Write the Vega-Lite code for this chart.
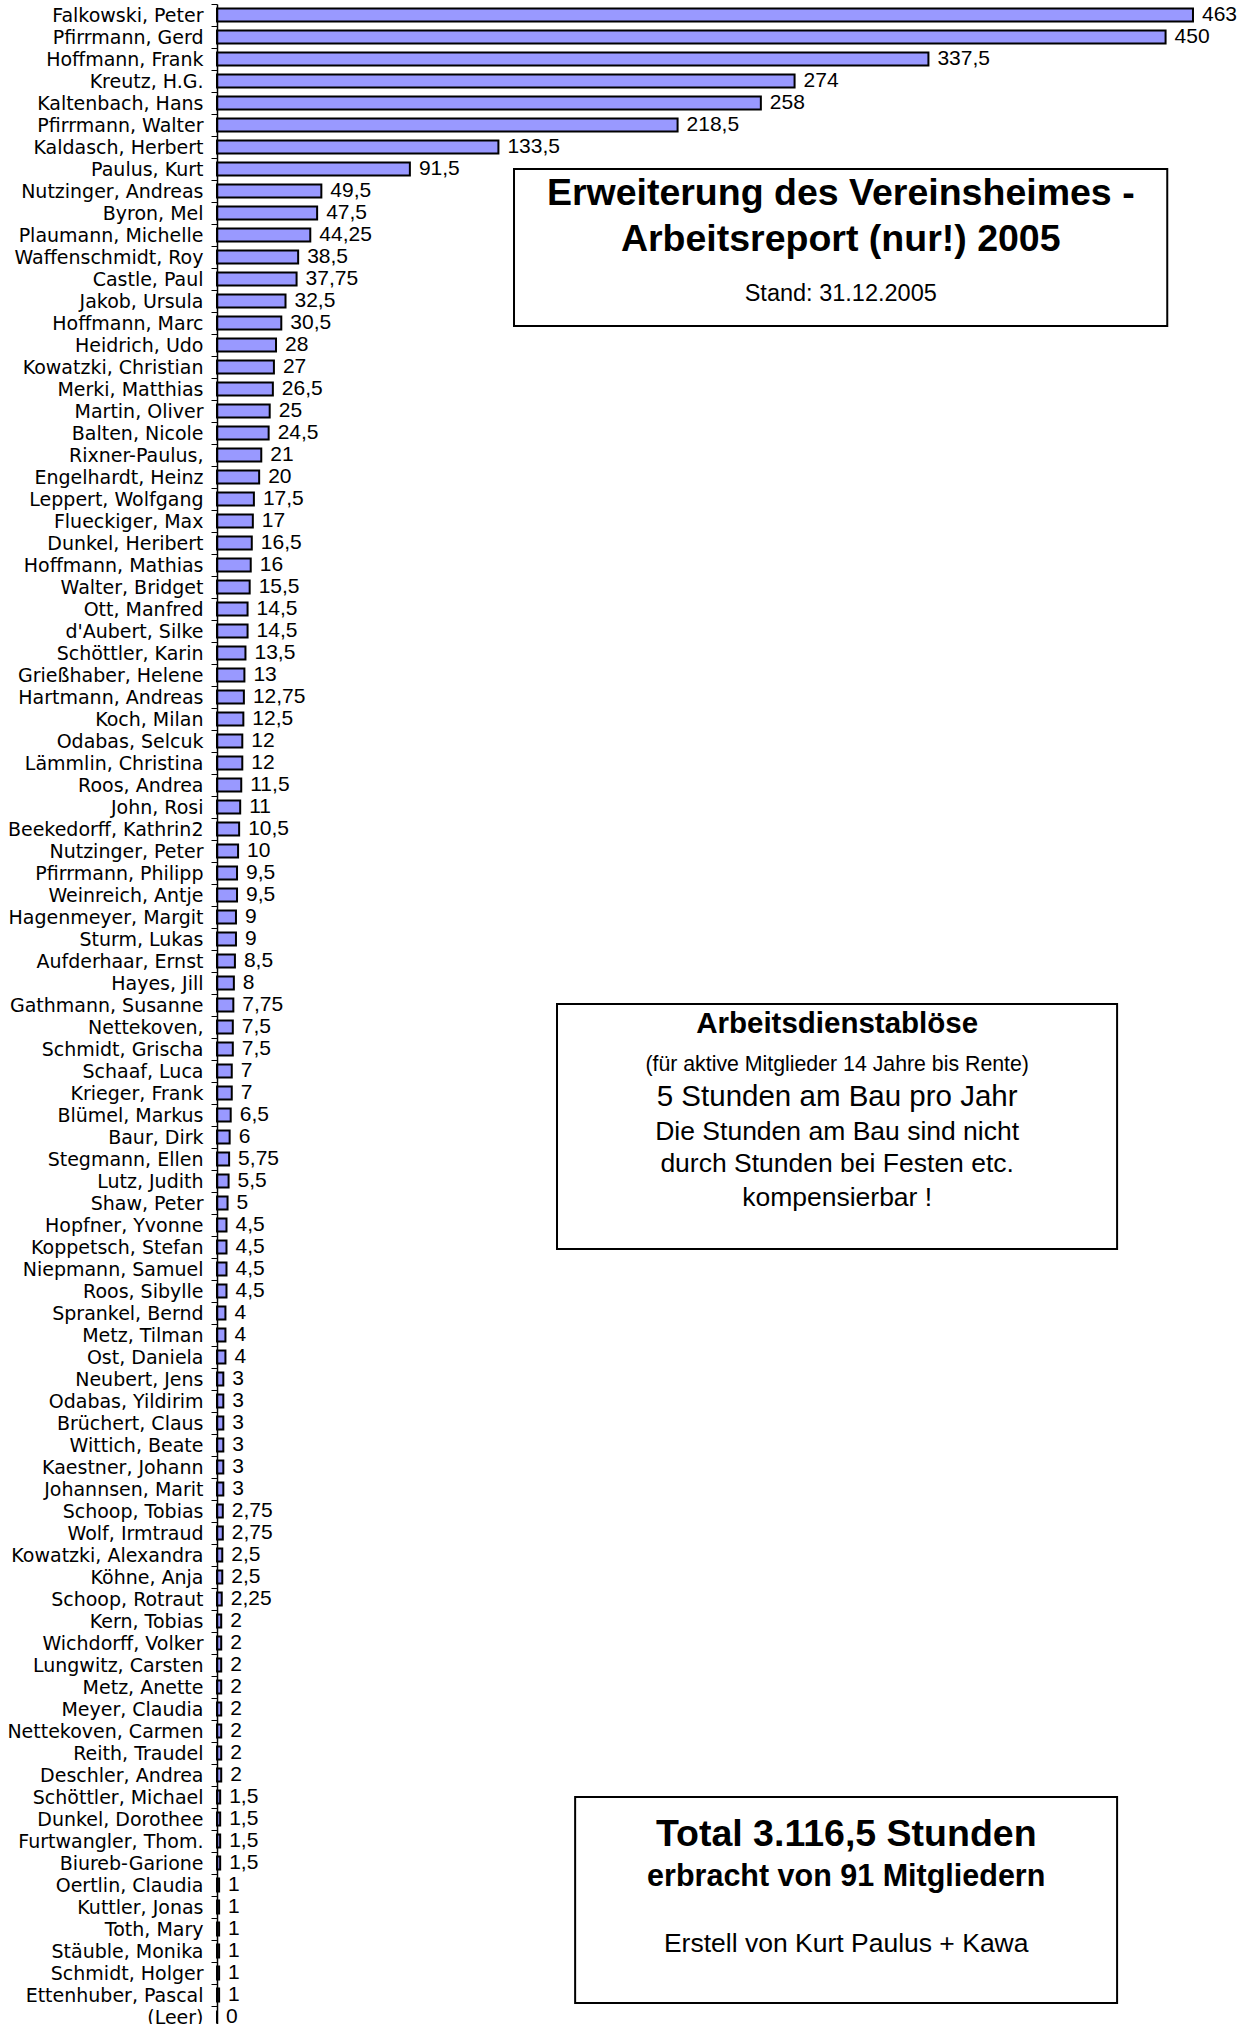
{
  "$schema": "https://vega.github.io/schema/vega-lite/v6.json",
  "width": 1035,
  "height": 2024,
  "padding": {"left": 217, "top": 4, "right": 0, "bottom": 0},
  "autosize": {"type": "none"},
  "background": "white",
  "config": {
    "view": {"stroke": null},
    "locale": {"number": {"decimal": ",", "thousands": ".", "grouping": [3], "currency": ["", " €"]}}
  },
  "datasets": {
    "members": [
      {"name": "Falkowski, Peter", "hours": 463},
      {"name": "Pfirrmann, Gerd", "hours": 450},
      {"name": "Hoffmann, Frank", "hours": 337.5},
      {"name": "Kreutz, H.G.", "hours": 274},
      {"name": "Kaltenbach, Hans", "hours": 258},
      {"name": "Pfirrmann, Walter", "hours": 218.5},
      {"name": "Kaldasch, Herbert", "hours": 133.5},
      {"name": "Paulus, Kurt", "hours": 91.5},
      {"name": "Nutzinger, Andreas", "hours": 49.5},
      {"name": "Byron, Mel", "hours": 47.5},
      {"name": "Plaumann, Michelle", "hours": 44.25},
      {"name": "Waffenschmidt, Roy", "hours": 38.5},
      {"name": "Castle, Paul", "hours": 37.75},
      {"name": "Jakob, Ursula", "hours": 32.5},
      {"name": "Hoffmann, Marc", "hours": 30.5},
      {"name": "Heidrich, Udo", "hours": 28},
      {"name": "Kowatzki, Christian", "hours": 27},
      {"name": "Merki, Matthias", "hours": 26.5},
      {"name": "Martin, Oliver", "hours": 25},
      {"name": "Balten, Nicole", "hours": 24.5},
      {"name": "Rixner-Paulus,", "hours": 21},
      {"name": "Engelhardt, Heinz", "hours": 20},
      {"name": "Leppert, Wolfgang", "hours": 17.5},
      {"name": "Flueckiger, Max", "hours": 17},
      {"name": "Dunkel, Heribert", "hours": 16.5},
      {"name": "Hoffmann, Mathias", "hours": 16},
      {"name": "Walter, Bridget", "hours": 15.5},
      {"name": "Ott, Manfred", "hours": 14.5},
      {"name": "d'Aubert, Silke", "hours": 14.5},
      {"name": "Schöttler, Karin", "hours": 13.5},
      {"name": "Grießhaber, Helene", "hours": 13},
      {"name": "Hartmann, Andreas", "hours": 12.75},
      {"name": "Koch, Milan", "hours": 12.5},
      {"name": "Odabas, Selcuk", "hours": 12},
      {"name": "Lämmlin, Christina", "hours": 12},
      {"name": "Roos, Andrea", "hours": 11.5},
      {"name": "John, Rosi", "hours": 11},
      {"name": "Beekedorff, Kathrin2", "hours": 10.5},
      {"name": "Nutzinger, Peter", "hours": 10},
      {"name": "Pfirrmann, Philipp", "hours": 9.5},
      {"name": "Weinreich, Antje", "hours": 9.5},
      {"name": "Hagenmeyer, Margit", "hours": 9},
      {"name": "Sturm, Lukas", "hours": 9},
      {"name": "Aufderhaar, Ernst", "hours": 8.5},
      {"name": "Hayes, Jill", "hours": 8},
      {"name": "Gathmann, Susanne", "hours": 7.75},
      {"name": "Nettekoven,", "hours": 7.5},
      {"name": "Schmidt, Grischa", "hours": 7.5},
      {"name": "Schaaf, Luca", "hours": 7},
      {"name": "Krieger, Frank", "hours": 7},
      {"name": "Blümel, Markus", "hours": 6.5},
      {"name": "Baur, Dirk", "hours": 6},
      {"name": "Stegmann, Ellen", "hours": 5.75},
      {"name": "Lutz, Judith", "hours": 5.5},
      {"name": "Shaw, Peter", "hours": 5},
      {"name": "Hopfner, Yvonne", "hours": 4.5},
      {"name": "Koppetsch, Stefan", "hours": 4.5},
      {"name": "Niepmann, Samuel", "hours": 4.5},
      {"name": "Roos, Sibylle", "hours": 4.5},
      {"name": "Sprankel, Bernd", "hours": 4},
      {"name": "Metz, Tilman", "hours": 4},
      {"name": "Ost, Daniela", "hours": 4},
      {"name": "Neubert, Jens", "hours": 3},
      {"name": "Odabas, Yildirim", "hours": 3},
      {"name": "Brüchert, Claus", "hours": 3},
      {"name": "Wittich, Beate", "hours": 3},
      {"name": "Kaestner, Johann", "hours": 3},
      {"name": "Johannsen, Marit", "hours": 3},
      {"name": "Schoop, Tobias", "hours": 2.75},
      {"name": "Wolf, Irmtraud", "hours": 2.75},
      {"name": "Kowatzki, Alexandra", "hours": 2.5},
      {"name": "Köhne, Anja", "hours": 2.5},
      {"name": "Schoop, Rotraut", "hours": 2.25},
      {"name": "Kern, Tobias", "hours": 2},
      {"name": "Wichdorff, Volker", "hours": 2},
      {"name": "Lungwitz, Carsten", "hours": 2},
      {"name": "Metz, Anette", "hours": 2},
      {"name": "Meyer, Claudia", "hours": 2},
      {"name": "Nettekoven, Carmen", "hours": 2},
      {"name": "Reith, Traudel", "hours": 2},
      {"name": "Deschler, Andrea", "hours": 2},
      {"name": "Schöttler, Michael", "hours": 1.5},
      {"name": "Dunkel, Dorothee", "hours": 1.5},
      {"name": "Furtwangler, Thom.", "hours": 1.5},
      {"name": "Biureb-Garione", "hours": 1.5},
      {"name": "Oertlin, Claudia", "hours": 1},
      {"name": "Kuttler, Jonas", "hours": 1},
      {"name": "Toth, Mary", "hours": 1},
      {"name": "Stäuble, Monika", "hours": 1},
      {"name": "Schmidt, Holger", "hours": 1},
      {"name": "Ettenhuber, Pascal", "hours": 1},
      {"name": "(Leer)", "hours": 0}
    ],
    "boxes": [
      {"box": "title", "x1": 140.9, "x2": 450.8, "r1": 7.5, "r2": 14.64},
      {"box": "rule", "x1": 161.3, "x2": 427.0, "r1": 45.45, "r2": 56.59},
      {"box": "total", "x1": 169.9, "x2": 427.0, "r1": 81.5, "r2": 90.86}
    ],
    "notes": [
      {"text": "Erweiterung des Vereinsheimes -", "x": 295.9, "row": 8.64, "style": "headline"},
      {"text": "Arbeitsreport (nur!) 2005", "x": 295.9, "row": 10.73, "style": "headline"},
      {"text": "Stand: 31.12.2005", "x": 295.9, "row": 13.18, "style": "date"},
      {"text": "Arbeitsdienstablöse", "x": 294.2, "row": 46.36, "style": "boxhead"},
      {"text": "(für aktive Mitglieder 14 Jahre bis Rente)", "x": 294.2, "row": 48.23, "style": "note"},
      {"text": "5 Stunden am Bau pro Jahr", "x": 294.2, "row": 49.68, "style": "rule"},
      {"text": "Die Stunden am Bau sind nicht", "x": 294.2, "row": 51.27, "style": "body"},
      {"text": "durch Stunden bei Festen etc.", "x": 294.2, "row": 52.73, "style": "body"},
      {"text": "kompensierbar !", "x": 294.2, "row": 54.27, "style": "body"},
      {"text": "Total 3.116,5 Stunden", "x": 298.5, "row": 83.23, "style": "headline"},
      {"text": "erbracht von 91 Mitgliedern", "x": 298.5, "row": 85.14, "style": "subhead"},
      {"text": "Erstell von Kurt Paulus + Kawa", "x": 298.5, "row": 88.18, "style": "body"}
    ]
  },
  "layer": [
    {
      "data": {"name": "members"},
      "encoding": {
        "y": {
          "field": "name", "type": "nominal", "sort": null,
          "scale": {"type": "band", "paddingInner": 0, "paddingOuter": 0},
          "axis": {
            "title": null, "tickBand": "extent", "tickSize": 6, "tickColor": "#000000", "tickWidth": 1,
            "domainColor": "#000000", "domainWidth": 1.5, "labelFont": "DejaVu Sans", "labelFontSize": 19,
            "labelColor": "#000000", "labelPadding": 8, "labelLimit": 260, "zindex": 1
          }
        },
        "x": {
          "field": "hours", "type": "quantitative",
          "scale": {"domain": [0, 491], "nice": false, "zero": true},
          "axis": {
            "title": null, "labels": false, "ticks": false, "domain": false, "grid": true,
            "values": [100, 200, 300, 400], "gridColor": "#707070", "gridWidth": 1, "zindex": 0
          }
        }
      },
      "layer": [
        {
          "mark": {"type": "bar", "fill": "#9999FF", "stroke": "#000000", "strokeWidth": 2, "size": 13}
        },
        {
          "mark": {"type": "text", "align": "left", "baseline": "middle", "dx": 9, "font": "Liberation Sans", "fontSize": 21, "color": "#000000"},
          "encoding": {
            "text": {"field": "hours", "type": "quantitative", "format": ".2~f"}
          }
        }
      ]
    },
    {
      "encoding": {
        "x": {"type": "quantitative", "scale": {"domain": [0, 491], "nice": false, "zero": true}, "axis": null}
      },
      "layer": [
        {
          "data": {"name": "boxes"},
          "mark": {"type": "rect", "fill": "#ffffff", "stroke": "#000000", "strokeWidth": 2},
          "encoding": {
            "x": {"field": "x1", "type": "quantitative", "scale": {"domain": [0, 491], "nice": false, "zero": true}, "axis": null},
            "x2": {"field": "x2"},
            "y": {"field": "r1", "type": "quantitative", "scale": {"domain": [0, 92], "reverse": true, "nice": false, "zero": false}, "axis": null},
            "y2": {"field": "r2"}
          }
        },
        {
          "data": {"name": "notes"},
          "transform": [{"filter": "datum.style === 'headline'"}],
          "mark": {"type": "text", "align": "center", "baseline": "middle", "font": "Liberation Sans", "fontWeight": "bold", "fontSize": 37.5, "color": "#000000"},
          "encoding": {
            "x": {"field": "x", "type": "quantitative", "scale": {"domain": [0, 491], "nice": false, "zero": true}, "axis": null},
            "y": {"field": "row", "type": "quantitative", "scale": {"domain": [0, 92], "reverse": true, "nice": false, "zero": false}, "axis": null},
            "text": {"field": "text", "type": "nominal"}
          }
        },
        {
          "data": {"name": "notes"},
          "transform": [{"filter": "datum.style === 'date'"}],
          "mark": {"type": "text", "align": "center", "baseline": "middle", "font": "Liberation Sans", "fontSize": 23.5, "color": "#000000"},
          "encoding": {
            "x": {"field": "x", "type": "quantitative", "scale": {"domain": [0, 491], "nice": false, "zero": true}, "axis": null},
            "y": {"field": "row", "type": "quantitative", "scale": {"domain": [0, 92], "reverse": true, "nice": false, "zero": false}, "axis": null},
            "text": {"field": "text", "type": "nominal"}
          }
        },
        {
          "data": {"name": "notes"},
          "transform": [{"filter": "datum.style === 'boxhead'"}],
          "mark": {"type": "text", "align": "center", "baseline": "middle", "font": "Liberation Sans", "fontWeight": "bold", "fontSize": 29.5, "color": "#000000"},
          "encoding": {
            "x": {"field": "x", "type": "quantitative", "scale": {"domain": [0, 491], "nice": false, "zero": true}, "axis": null},
            "y": {"field": "row", "type": "quantitative", "scale": {"domain": [0, 92], "reverse": true, "nice": false, "zero": false}, "axis": null},
            "text": {"field": "text", "type": "nominal"}
          }
        },
        {
          "data": {"name": "notes"},
          "transform": [{"filter": "datum.style === 'note'"}],
          "mark": {"type": "text", "align": "center", "baseline": "middle", "font": "Liberation Sans", "fontSize": 21.3, "color": "#000000"},
          "encoding": {
            "x": {"field": "x", "type": "quantitative", "scale": {"domain": [0, 491], "nice": false, "zero": true}, "axis": null},
            "y": {"field": "row", "type": "quantitative", "scale": {"domain": [0, 92], "reverse": true, "nice": false, "zero": false}, "axis": null},
            "text": {"field": "text", "type": "nominal"}
          }
        },
        {
          "data": {"name": "notes"},
          "transform": [{"filter": "datum.style === 'rule'"}],
          "mark": {"type": "text", "align": "center", "baseline": "middle", "font": "Liberation Sans", "fontSize": 29.5, "color": "#000000"},
          "encoding": {
            "x": {"field": "x", "type": "quantitative", "scale": {"domain": [0, 491], "nice": false, "zero": true}, "axis": null},
            "y": {"field": "row", "type": "quantitative", "scale": {"domain": [0, 92], "reverse": true, "nice": false, "zero": false}, "axis": null},
            "text": {"field": "text", "type": "nominal"}
          }
        },
        {
          "data": {"name": "notes"},
          "transform": [{"filter": "datum.style === 'body'"}],
          "mark": {"type": "text", "align": "center", "baseline": "middle", "font": "Liberation Sans", "fontSize": 26.5, "color": "#000000"},
          "encoding": {
            "x": {"field": "x", "type": "quantitative", "scale": {"domain": [0, 491], "nice": false, "zero": true}, "axis": null},
            "y": {"field": "row", "type": "quantitative", "scale": {"domain": [0, 92], "reverse": true, "nice": false, "zero": false}, "axis": null},
            "text": {"field": "text", "type": "nominal"}
          }
        },
        {
          "data": {"name": "notes"},
          "transform": [{"filter": "datum.style === 'subhead'"}],
          "mark": {"type": "text", "align": "center", "baseline": "middle", "font": "Liberation Sans", "fontWeight": "bold", "fontSize": 30.5, "color": "#000000"},
          "encoding": {
            "x": {"field": "x", "type": "quantitative", "scale": {"domain": [0, 491], "nice": false, "zero": true}, "axis": null},
            "y": {"field": "row", "type": "quantitative", "scale": {"domain": [0, 92], "reverse": true, "nice": false, "zero": false}, "axis": null},
            "text": {"field": "text", "type": "nominal"}
          }
        }
      ]
    }
  ],
  "resolve": {"scale": {"y": "independent"}, "axis": {"y": "independent"}}
}
